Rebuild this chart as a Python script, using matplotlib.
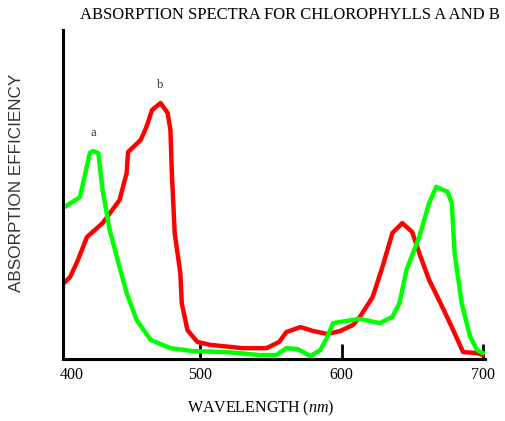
"""
Absorption spectra for chlorophylls a and b.
"""

import matplotlib.pyplot as plt
from matplotlib.transforms import blended_transform_factory


OUTPUT_PATH = "out.png"

# chlorophyll a (green curve), wavelength in nm and relative absorption
chl_a_nm = [403, 415, 422, 424, 428, 431, 436, 443, 448, 455, 465, 479,
            495, 519, 542, 554, 561, 569, 578, 585, 590, 594, 604, 613,
            627, 636, 641, 646, 655, 662, 667, 675, 678, 680, 685, 691,
            696, 700]
chl_a_abs = [45.9, 49.2, 62.6, 63.2, 62.6, 51.4, 39.2, 28.0, 20.1, 11.9,
             5.8, 3.3, 2.4, 2.1, 1.2, 1.2, 3.3, 3.0, 0.9, 2.7, 6.7, 10.9,
             11.6, 12.2, 10.9, 12.8, 17.0, 27.1, 37.1, 47.4, 52.3, 50.8,
             47.4, 32.2, 17.0, 6.7, 2.7, 1.8]

# chlorophyll b (red curve)
chl_b_nm = [403, 408, 413, 420, 431, 443, 448, 449, 458, 462, 466, 472,
            477, 479, 480, 482, 486, 487, 491, 498, 507, 530, 547, 556,
            561, 571, 580, 590, 599, 608, 613, 622, 629, 636, 643, 650,
            655, 662, 670, 679, 686, 696, 700]
chl_b_abs = [22.8, 24.9, 29.5, 37.1, 41.3, 48.3, 56.5, 62.9, 66.6, 70.5,
             75.7, 77.8, 74.8, 69.6, 56.5, 38.3, 26.1, 17.0, 8.8, 5.2,
             4.3, 3.3, 3.3, 5.2, 8.2, 9.7, 8.5, 7.6, 8.5, 10.3, 12.8,
             18.8, 28.0, 38.3, 41.3, 38.6, 32.2, 24.0, 17.0, 8.8, 2.1,
             1.8, 1.2]

x_ticks = [500, 600, 700]
first_label = "400"


def main():
    plt.rcParams["mathtext.fontset"] = "custom"
    plt.rcParams["mathtext.it"] = "Liberation Serif:italic"
    plt.rcParams["mathtext.rm"] = "Liberation Serif"

    fig = plt.figure(figsize=(5.05, 4.21), dpi=100)
    ax = fig.add_axes([63 / 505, 1 - 359 / 421, 422 / 505, 329 / 421])

    ax.plot(chl_b_nm, chl_b_abs, color="#ff0000", linewidth=3.2,
            solid_joinstyle="round", solid_capstyle="round")
    ax.plot(chl_a_nm, chl_a_abs, color="#00ff00", linewidth=3.2,
            solid_joinstyle="round", solid_capstyle="round")

    ax.set_xlim(403, 701.5)
    ax.set_ylim(0, 100)

    for side in ["top", "right"]:
        ax.spines[side].set_visible(False)
    for side in ["left", "bottom"]:
        ax.spines[side].set_linewidth(2.2)

    ax.set_yticks([])
    ax.set_xticks(x_ticks)
    ax.tick_params(axis="x", direction="in", length=11, width=2,
                   pad=6, labelsize=11.5)
    for label in ax.get_xticklabels():
        label.set_fontfamily("Liberation Serif")

    trans = blended_transform_factory(ax.transAxes, ax.transAxes)
    ax.annotate(first_label, xy=(0, 0), xycoords=trans,
                xytext=(9, -16), textcoords="offset pixels",
                ha="center", va="center", fontsize=11.5,
                family="Liberation Serif")

    ax.annotate("a", xy=(424.4, 67), ha="center", va="bottom",
                fontsize=9, family="Liberation Serif", color="#333333")
    ax.annotate("b", xy=(471.7, 81.5), ha="center", va="bottom",
                fontsize=9, family="Liberation Serif", color="#333333")

    fig.text(261 / 505, 1 - 408 / 421, r"WAVELENGTH ($\mathit{nm}$)",
             ha="center", va="center", fontsize=11.5,
             family="Liberation Serif")
    fig.text(17 / 505, 1 - 183 / 421, "ABSORPTION EFFICIENCY",
             rotation=90, ha="center", va="center", fontsize=12.3,
             family="Liberation Sans", color="#333333")
    fig.text(80 / 505, 1 - 15 / 421,
             "ABSORPTION SPECTRA FOR CHLOROPHYLLS A AND B",
             ha="left", va="center", fontsize=12,
             family="Liberation Serif")

    fig.savefig(OUTPUT_PATH, dpi=100)
    plt.close(fig)


if __name__ == "__main__":
    main()
